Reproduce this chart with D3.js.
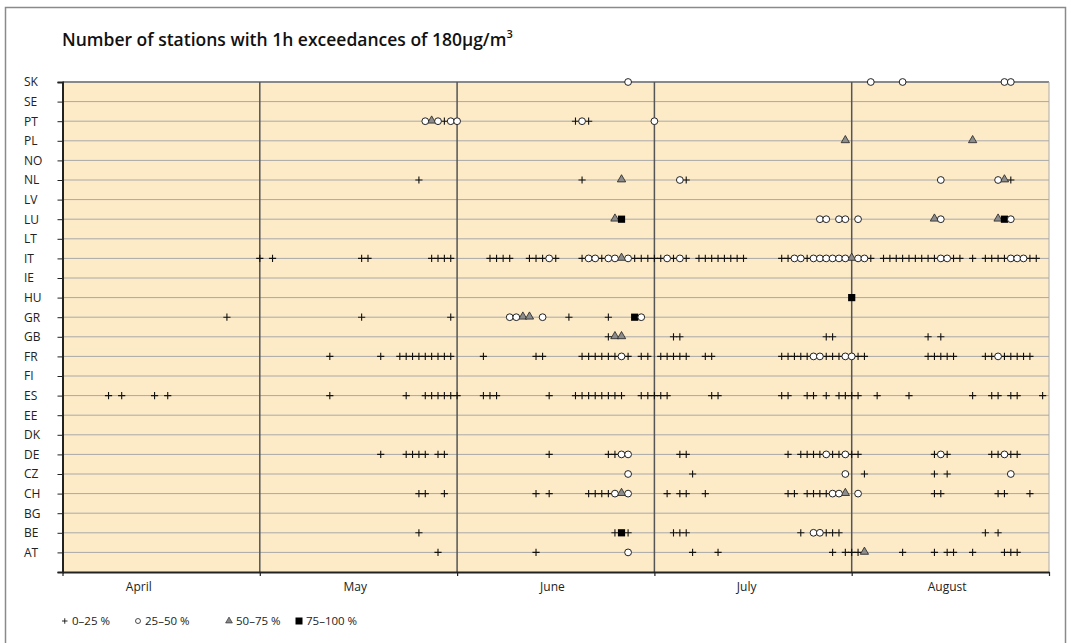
<!DOCTYPE html>
<html>
<head>
<meta charset="utf-8">
<script src="https://cdn.jsdelivr.net/npm/d3@7"></script>
<style>
  body { margin: 0; background: #fff; }
  svg { display: block; font-family: "Open Sans", Lato, sans-serif; }
</style>
</head>
<body>
<svg id="chart" width="1071" height="643"></svg>
<script>
// countries top to bottom
const countries = ['SK', 'SE', 'PT', 'PL', 'NO', 'NL', 'LV', 'LU', 'LT', 'IT', 'IE', 'HU', 'GR', 'GB', 'FR', 'FI', 'ES', 'EE', 'DK', 'DE', 'CZ', 'CH', 'BG', 'BE', 'AT'];

// days counted from 1 April (0 = 1 Apr)
const monthStarts = [0, 30, 61, 91, 122, 153];
const monthNames = ['April', 'May', 'June', 'July', 'August'];
const monthLabelDays = [11.6, 45, 75.5, 105.5, 137];

// 0-25 %
const plus025 = {
  PT: [59, 79, 81],
  NL: [55, 80, 96, 147],
  IT: [30, 32, 46, 47, 57, 58, 59, 60, 66, 67, 68, 69, 72, 73, 74, 76, 80, 83, 88, 89, 90, 91, 92, 94, 96, 98, 99, 100, 101, 102, 103, 104, 105, 111, 112, 115, 125, 127, 128, 129, 130, 131, 132, 133, 134, 135, 138, 139, 141, 143, 144, 145, 146, 150, 151],
  GR: [25, 46, 60, 78, 84],
  GB: [84, 94, 95, 118, 119, 134, 136],
  FR: [41, 49, 52, 53, 54, 55, 56, 57, 58, 59, 60, 65, 73, 74, 80, 81, 82, 83, 84, 85, 87, 89, 90, 92, 93, 94, 95, 96, 99, 100, 111, 112, 113, 114, 115, 118, 119, 120, 123, 124, 134, 135, 136, 137, 138, 143, 144, 146, 147, 148, 149, 150],
  ES: [7, 9, 14, 16, 41, 53, 56, 57, 58, 59, 60, 61, 65, 66, 67, 75, 79, 80, 81, 82, 83, 84, 85, 86, 89, 90, 91, 92, 93, 100, 101, 111, 112, 115, 116, 118, 120, 121, 122, 123, 126, 131, 141, 144, 145, 147, 148, 152],
  DE: [49, 53, 54, 55, 56, 58, 59, 75, 84, 85, 95, 96, 112, 114, 115, 116, 117, 119, 120, 122, 123, 135, 137, 144, 145, 147, 148],
  CZ: [97, 124, 135, 137],
  CH: [55, 56, 59, 73, 75, 81, 82, 83, 84, 93, 95, 96, 99, 112, 113, 115, 116, 117, 118, 135, 136, 145, 146, 150],
  BE: [55, 85, 87, 94, 95, 96, 114, 118, 119, 120, 143, 145],
  AT: [58, 73, 97, 101, 119, 121, 122, 123, 130, 135, 137, 138, 141, 146, 147, 148]
};

// 25-50 %
const circ2550 = {
  SK: [87, 125, 130, 146, 147],
  PT: [56, 58, 60, 61, 80, 91],
  NL: [95, 136, 145],
  LU: [117, 118, 120, 121, 123, 136, 147],
  IT: [75, 81, 82, 84, 85, 87, 93, 95, 113, 114, 116, 117, 118, 119, 120, 121, 123, 124, 136, 137, 147, 148, 149],
  GR: [69, 70, 74, 89],
  FR: [86, 116, 117, 121, 122, 145],
  DE: [86, 87, 118, 121, 136, 146],
  CZ: [87, 121, 147],
  CH: [85, 87, 119, 120, 123],
  BE: [116, 117],
  AT: [87]
};

// 50-75 %
const tri5075 = {
  PT: [57],
  PL: [121, 141],
  NL: [86, 146],
  LU: [85, 135, 145],
  IT: [86, 122],
  GR: [71, 72],
  GB: [85, 86],
  CH: [86, 121],
  AT: [124]
};

// 75-100 %
const sq75100 = {
  LU: [86, 146],
  HU: [122],
  GR: [88],
  BE: [86]
};

const legendLabels = ['0\u201325 %', '25\u201350 %', '50\u201375 %', '75\u2013100 %'];

const svg = d3.select('#chart');
const plotLeft = 62.5, plotRight = 1049, plotTop = 82, plotBottom = 572;

// outer frame
svg.append('rect').attr('x', 5.5).attr('y', 7.5).attr('width', 1060).attr('height', 640)
  .attr('fill', '#fff').attr('stroke', '#8a8a8a').attr('stroke-width', 1.5);

svg.append('text').attr('x', 62).attr('y', 46)
  .attr('font-size', 17.5).attr('font-weight', 600).attr('fill', '#111')
  .text('Number of stations with 1h exceedances of 180\u00b5g/m')
  .append('tspan').attr('font-size', 11).attr('dy', -8).text('3');

const x = d3.scaleLinear()
  .domain(monthStarts)
  .range(monthStarts.map((d, i) => plotLeft + i * (plotRight - plotLeft) / (monthStarts.length - 1)));

const y = d3.scaleLinear().domain([0, countries.length]).range([plotBottom, plotTop]);
const rowY = c => y(countries.length - countries.indexOf(c));

svg.append('rect').attr('x', plotLeft).attr('y', plotTop)
  .attr('width', plotRight - plotLeft).attr('height', plotBottom - plotTop)
  .attr('fill', '#fdebc8');

// horizontal grid
svg.append('g').selectAll('line').data(countries.slice(1)).join('line')
  .attr('x1', plotLeft).attr('x2', plotRight)
  .attr('y1', d => rowY(d)).attr('y2', d => rowY(d))
  .attr('stroke', '#a8a8a8').attr('stroke-width', 1);

svg.append('line').attr('x1', plotLeft).attr('x2', plotRight).attr('y1', plotTop).attr('y2', plotTop)
  .attr('stroke', '#888').attr('stroke-width', 2);
svg.append('line').attr('x1', plotRight).attr('x2', plotRight).attr('y1', plotTop).attr('y2', plotBottom)
  .attr('stroke', '#aaa').attr('stroke-width', 1);

// month separators
svg.append('g').selectAll('line').data(monthStarts.slice(1, -1)).join('line')
  .attr('x1', d => x(d)).attr('x2', d => x(d))
  .attr('y1', plotTop).attr('y2', plotBottom)
  .attr('stroke', '#555').attr('stroke-width', 1.5);

// axes
const yAxis = svg.append('g').attr('transform', `translate(${plotLeft},0)`)
  .call(d3.axisLeft(y).tickValues(d3.range(0, countries.length + 1)).tickSize(5)
    .tickFormat(v => v === 0 ? '' : countries[countries.length - v]));
yAxis.select('.domain').attr('stroke', '#222').attr('stroke-width', 2);
yAxis.selectAll('.tick line').attr('stroke', '#222');
yAxis.selectAll('text').attr('text-anchor', 'start').attr('x', 24 - plotLeft)
  .attr('font-size', 12).attr('fill', '#222').attr('font-family', '"Open Sans", sans-serif');

const xAxis = svg.append('g').attr('transform', `translate(0,${plotBottom})`)
  .call(d3.axisBottom(x).tickValues(monthStarts).tickSize(4).tickSizeOuter(0).tickFormat(''));
xAxis.select('.domain').attr('stroke', '#222').attr('stroke-width', 2);
xAxis.selectAll('.tick line').attr('stroke', '#222').attr('stroke-width', 1.2);

svg.append('g').selectAll('text').data(monthNames).join('text')
  .attr('x', (d, i) => x(monthLabelDays[i])).attr('y', 591)
  .attr('text-anchor', 'middle').attr('font-size', 12).attr('fill', '#222')
  .text(d => d);

// marks
const flat = obj => Object.entries(obj).flatMap(([c, days]) => days.map(d => ({ c, d })));
const marks = svg.append('g');

marks.selectAll('path.plus').data(flat(plus025)).join('path')
  .attr('class', 'plus')
  .attr('d', p => `M${x(p.d) - 3.6},${rowY(p.c)}h7.2M${x(p.d)},${rowY(p.c) - 3.6}v7.2`)
  .attr('stroke', '#111').attr('stroke-width', 1.1);

const tri = d3.symbol().type(d3.symbolTriangle).size(30);
marks.selectAll('path.tri').data(flat(tri5075)).join('path')
  .attr('class', 'tri')
  .attr('transform', p => `translate(${x(p.d)},${rowY(p.c) - 0.5})`)
  .attr('d', tri)
  .attr('fill', '#8c8c8c').attr('stroke', '#222').attr('stroke-width', 0.8);

marks.selectAll('rect.sq').data(flat(sq75100)).join('rect')
  .attr('class', 'sq')
  .attr('x', p => x(p.d) - 3.6).attr('y', p => rowY(p.c) - 3.6)
  .attr('width', 7.2).attr('height', 7.2).attr('fill', '#000');

marks.selectAll('circle').data(flat(circ2550)).join('circle')
  .attr('cx', p => x(p.d)).attr('cy', p => rowY(p.c)).attr('r', 3.4)
  .attr('fill', '#fff').attr('stroke', '#222').attr('stroke-width', 1);

// legend
const legX = [62, 137, 228, 298];
const leg = svg.append('g').selectAll('g').data(legendLabels).join('g')
  .attr('transform', (d, i) => `translate(${legX[i]},621)`);
leg.append('text').attr('x', (d, i) => i === 0 ? 10 : 8).attr('y', 4)
  .attr('font-size', 11.5).attr('fill', '#222').text(d => d);
leg.filter((d, i) => i === 0).append('path').attr('d', 'M0,0h5.5M2.75,-2.75v5.5')
  .attr('stroke', '#111').attr('stroke-width', 0.9);
leg.filter((d, i) => i === 1).append('circle').attr('cx', 1).attr('r', 2.5)
  .attr('fill', '#fff').attr('stroke', '#222').attr('stroke-width', 0.8);
leg.filter((d, i) => i === 2).append('path').attr('d', d3.symbol().type(d3.symbolTriangle).size(20))
  .attr('transform', 'translate(1,0)').attr('fill', '#888').attr('stroke', '#222').attr('stroke-width', 0.6);
leg.filter((d, i) => i === 3).append('rect').attr('x', -2.5).attr('y', -3.5).attr('width', 7).attr('height', 7)
  .attr('fill', '#000');
</script>
</body>
</html>
